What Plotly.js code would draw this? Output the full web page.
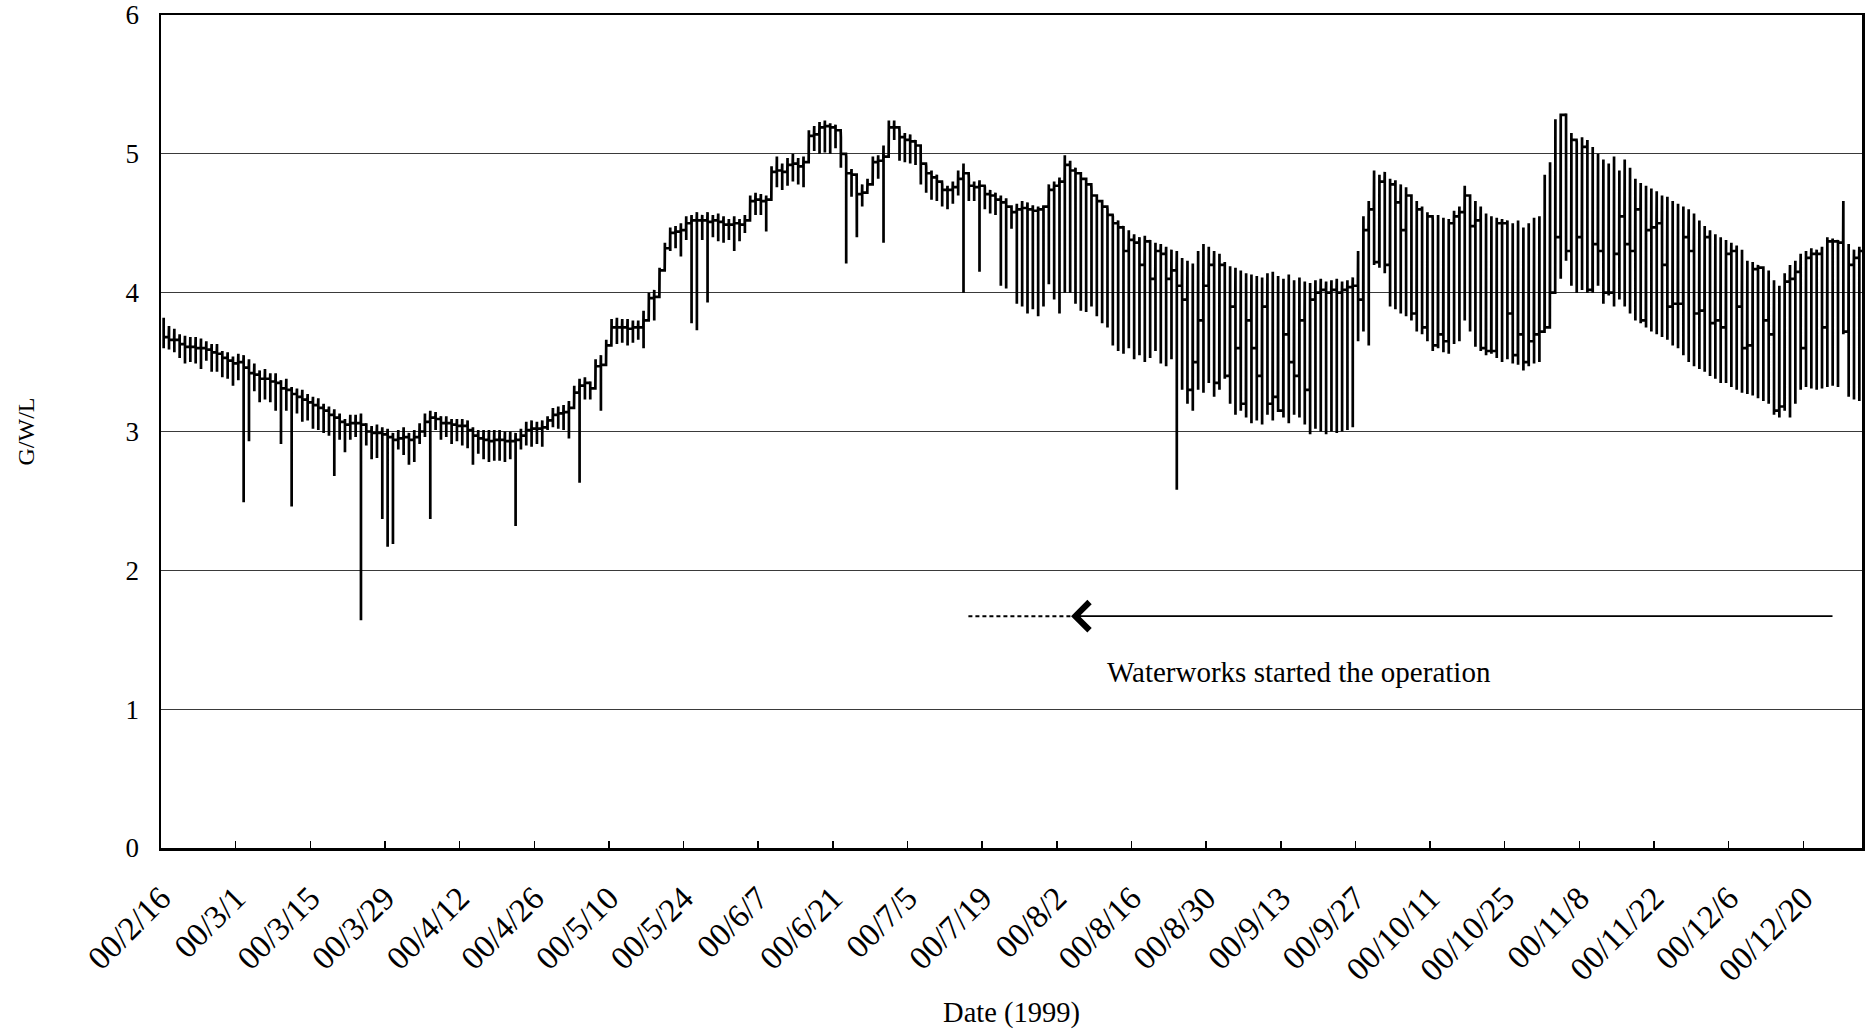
<!DOCTYPE html>
<html>
<head>
<meta charset="utf-8">
<script src="https://cdn.plot.ly/plotly-3.0.1.min.js"></script>
<style>
html,body{margin:0;padding:0;background:#ffffff;}
#chart{width:1868px;height:1029px;}
</style>
</head>
<body>
<div id="chart"></div>
<script>
// ---- Data (one entry per day starting 2000-02-16) ----
const startDate = '2000-02-16';
const endDate = '2000-12-31';

// level the trace rests at during the day
const dayLevel = [
3.68,3.66,3.66,3.63,3.61,3.61,3.60,3.60,3.59,3.57,
3.56,3.53,3.51,3.49,3.50,3.46,3.42,3.41,3.38,3.38,
3.36,3.35,3.31,3.30,3.27,3.25,3.23,3.21,3.19,3.17,
3.15,3.12,3.10,3.07,3.05,3.06,3.06,3.05,3.00,2.99,
2.99,2.98,2.96,2.94,2.95,2.96,2.94,2.96,3.00,3.07,
3.10,3.09,3.06,3.06,3.05,3.04,3.04,3.01,2.97,2.95,
2.94,2.93,2.94,2.94,2.93,2.93,2.94,2.97,3.01,3.02,
3.02,3.03,3.08,3.12,3.13,3.14,3.17,3.28,3.33,3.35,
3.31,3.47,3.48,3.62,3.75,3.75,3.75,3.74,3.75,3.75,
3.80,3.96,3.97,4.16,4.32,4.43,4.44,4.45,4.50,4.52,
4.52,4.52,4.51,4.52,4.51,4.49,4.49,4.50,4.49,4.52,
4.66,4.67,4.66,4.67,4.87,4.88,4.87,4.92,4.93,4.91,
4.94,5.13,5.14,5.19,5.20,5.19,5.17,5.00,4.86,4.85,
4.71,4.72,4.78,4.94,4.95,4.98,5.19,5.19,5.12,5.10,
5.09,5.06,4.93,4.86,4.83,4.80,4.74,4.74,4.76,4.82,
4.86,4.77,4.76,4.77,4.71,4.70,4.67,4.65,4.62,4.58,
4.60,4.61,4.60,4.59,4.60,4.62,4.74,4.77,4.80,4.92,
4.88,4.86,4.82,4.78,4.70,4.66,4.62,4.56,4.50,4.47,
4.30,4.38,4.36,4.20,4.37,4.10,4.30,4.28,4.10,4.16,
4.05,3.95,3.30,3.50,3.80,4.05,4.20,3.35,4.20,3.40,
3.90,3.60,3.20,3.80,3.60,3.40,3.90,3.20,3.25,3.15,
3.70,3.50,3.40,3.80,3.30,3.95,4.00,4.02,4.00,4.02,
4.00,4.02,4.04,4.05,3.95,4.45,4.60,4.22,4.80,4.20,
4.78,4.65,4.45,4.70,3.85,4.60,3.75,4.55,3.62,3.70,
3.65,4.50,4.55,4.58,4.70,4.48,4.52,3.60,3.58,3.58,
4.50,4.50,3.85,3.55,3.70,3.50,3.65,3.70,3.72,3.75,
4.00,4.40,5.28,4.30,5.10,4.40,5.05,4.02,4.35,4.30,
4.00,4.00,4.28,4.55,4.35,4.30,4.60,3.80,4.45,4.47,
4.50,4.20,3.90,3.92,3.92,4.40,4.30,3.85,3.87,4.40,
3.78,3.80,3.75,4.28,4.30,3.90,3.60,3.62,4.17,4.18,
3.80,3.70,3.15,3.18,4.08,4.10,4.15,3.60,4.25,4.28,
4.28,3.75,4.37,4.37,4.36,3.72,4.20,4.25,4.30,4.28
];

// daily maximum
const dayHigh = [
3.82,3.76,3.74,3.70,3.69,3.68,3.68,3.67,3.65,3.63,
3.63,3.58,3.57,3.54,3.56,3.55,3.52,3.49,3.44,3.45,
3.42,3.42,3.37,3.38,3.32,3.31,3.30,3.27,3.25,3.24,
3.20,3.18,3.16,3.13,3.09,3.12,3.12,3.13,3.06,3.04,
3.05,3.03,3.02,2.99,3.01,3.03,2.99,3.01,3.06,3.13,
3.15,3.14,3.11,3.11,3.09,3.09,3.09,3.08,3.03,3.01,
3.01,3.01,3.01,3.01,3.00,3.00,2.99,3.02,3.07,3.08,
3.07,3.08,3.11,3.17,3.18,3.19,3.22,3.33,3.38,3.39,
3.36,3.52,3.55,3.66,3.81,3.82,3.81,3.81,3.80,3.80,
3.87,4.00,4.02,4.18,4.36,4.47,4.48,4.50,4.55,4.56,
4.58,4.56,4.58,4.56,4.57,4.55,4.53,4.55,4.53,4.56,
4.70,4.72,4.71,4.70,4.91,4.98,4.93,4.97,5.00,4.97,
4.98,5.17,5.20,5.23,5.24,5.22,5.21,5.12,4.98,4.89,
4.75,4.78,4.82,4.98,4.99,5.06,5.24,5.24,5.16,5.15,
5.14,5.10,4.98,4.91,4.88,4.85,4.78,4.77,4.80,4.88,
4.93,4.82,4.80,4.81,4.76,4.74,4.72,4.70,4.68,4.62,
4.64,4.66,4.65,4.63,4.62,4.63,4.78,4.80,4.83,4.99,
4.95,4.90,4.86,4.82,4.74,4.70,4.66,4.60,4.55,4.52,
4.48,4.45,4.42,4.40,4.41,4.38,4.36,4.35,4.33,4.31,
4.30,4.25,4.23,4.21,4.30,4.35,4.33,4.30,4.28,4.22,
4.19,4.18,4.16,4.14,4.13,4.12,4.11,4.14,4.15,4.12,
4.10,4.13,4.09,4.11,4.08,4.07,4.09,4.10,4.08,4.09,
4.10,4.08,4.09,4.11,4.30,4.55,4.66,4.88,4.85,4.87,
4.82,4.81,4.78,4.76,4.70,4.66,4.62,4.58,4.52,4.56,
4.54,4.53,4.59,4.62,4.77,4.70,4.66,4.62,4.57,4.55,
4.54,4.53,4.52,4.50,4.52,4.47,4.50,4.54,4.55,4.85,
4.94,5.25,5.29,5.29,5.15,5.08,5.12,5.10,5.05,5.00,
4.96,4.93,4.98,4.88,4.96,4.90,4.82,4.79,4.77,4.75,
4.73,4.70,4.69,4.66,4.64,4.62,4.60,4.57,4.52,4.48,
4.45,4.42,4.40,4.38,4.36,4.34,4.31,4.23,4.22,4.20,
4.18,4.16,4.09,4.05,4.14,4.20,4.23,4.28,4.30,4.32,
4.31,4.33,4.40,4.39,4.38,4.66,4.35,4.31,4.33,4.30
];

// daily minimum
const dayLow = [
3.60,3.59,3.57,3.53,3.49,3.50,3.49,3.45,3.51,3.43,
3.43,3.39,3.38,3.33,3.37,2.49,2.93,3.29,3.21,3.23,
3.21,3.15,2.91,3.15,2.46,3.13,3.07,3.08,3.02,3.01,
2.99,2.97,2.68,2.94,2.85,2.94,2.96,1.64,2.90,2.80,
2.81,2.37,2.17,2.19,2.87,2.83,2.76,2.78,2.91,2.96,
2.37,3.01,2.94,2.96,2.91,2.93,2.90,2.88,2.76,2.84,
2.80,2.78,2.79,2.79,2.78,2.80,2.32,2.87,2.90,2.89,
2.91,2.89,3.01,3.03,3.02,3.01,2.95,3.21,2.63,3.23,
3.23,3.40,3.15,3.55,3.62,3.63,3.64,3.62,3.64,3.66,
3.60,3.80,3.80,4.10,4.22,4.30,4.32,4.26,4.38,3.78,
3.73,4.38,3.93,4.40,4.37,4.36,4.38,4.30,4.37,4.43,
4.55,4.56,4.56,4.44,4.75,4.76,4.74,4.77,4.80,4.78,
4.76,5.06,5.02,5.00,5.01,5.00,5.04,4.90,4.21,4.69,
4.40,4.62,4.72,4.80,4.82,4.36,5.05,5.10,4.95,4.94,
4.93,4.92,4.78,4.72,4.67,4.66,4.62,4.60,4.64,4.70,
4.00,4.66,4.66,4.15,4.60,4.57,4.56,4.05,4.03,4.46,
3.92,3.90,3.85,3.88,3.83,3.90,4.06,3.95,3.85,4.00,
4.00,3.92,3.87,3.86,3.90,3.83,3.78,3.75,3.62,3.58,
3.56,3.60,3.52,3.55,3.50,3.53,3.58,3.49,3.47,3.52,
2.58,3.30,3.20,3.15,3.30,3.28,3.35,3.25,3.30,3.38,
3.20,3.12,3.15,3.10,3.06,3.08,3.05,3.12,3.08,3.15,
3.10,3.06,3.12,3.10,3.05,2.98,3.02,3.00,2.98,3.00,
2.99,3.00,3.01,3.03,3.65,3.72,3.62,4.20,4.18,4.14,
3.90,3.88,3.85,3.83,3.80,3.72,3.70,3.65,3.58,3.60,
3.57,3.56,3.63,3.65,3.80,3.72,3.61,3.58,3.55,3.56,
3.53,3.50,3.52,3.49,3.48,3.44,3.47,3.49,3.50,3.73,
3.91,4.20,4.10,4.23,4.05,4.00,4.02,4.00,4.00,4.05,
3.92,3.98,3.90,3.95,3.90,3.85,3.80,3.78,3.75,3.72,
3.70,3.68,3.66,3.62,3.60,3.55,3.50,3.47,3.45,3.43,
3.40,3.38,3.35,3.35,3.32,3.30,3.28,3.27,3.26,3.24,
3.22,3.20,3.12,3.10,3.15,3.10,3.20,3.30,3.32,3.31,
3.30,3.31,3.32,3.33,3.32,3.70,3.25,3.23,3.22,3.24
];

const tickDates = ['2000-02-16','2000-03-01','2000-03-15','2000-03-29','2000-04-12','2000-04-26',
  '2000-05-10','2000-05-24','2000-06-07','2000-06-21','2000-07-05','2000-07-19','2000-08-02',
  '2000-08-16','2000-08-30','2000-09-13','2000-09-27','2000-10-11','2000-10-25','2000-11-08',
  '2000-11-22','2000-12-06','2000-12-20'];
const tickLabels = ['00/2/16','00/3/1','00/3/15','00/3/29','00/4/12','00/4/26','00/5/10',
  '00/5/24','00/6/7','00/6/21','00/7/5','00/7/19','00/8/2','00/8/16','00/8/30','00/9/13',
  '00/9/27','00/10/11','00/10/25','00/11/8','00/11/22','00/12/6','00/12/20'];

// annotation: waterworks operation arrow
const noteText = 'Waterworks started the operation';
const noteDate = '2000-09-16 08:00';
const noteLevel = 1.27;
const arrowLevel = 1.67;
const arrowTailDate = '2000-12-25 18:00';
const arrowHeadDate = '2000-08-04 16:00';
const dashStartDate = '2000-07-16 10:00';

// ---- Build the line from the daily arrays ----
const DAY = 86400000;
const p2 = n => String(n).padStart(2, '0');
function fmt(ms) {
  const d = new Date(ms);
  return d.getUTCFullYear() + '-' + p2(d.getUTCMonth() + 1) + '-' + p2(d.getUTCDate()) + ' ' +
    p2(d.getUTCHours()) + ':' + p2(d.getUTCMinutes()) + ':' + p2(d.getUTCSeconds());
}
const [sy, sm, sd] = startDate.split('-').map(Number);
const startMs = Date.UTC(sy, sm - 1, sd);
const xs = [], ys = [];
for (let i = 0; i < dayLevel.length; i++) {
  const t = startMs + (i + 0.5) * DAY;
  xs.push(fmt(t), fmt(t), fmt(t), fmt(t + 0.96 * DAY));
  ys.push(dayHigh[i], dayLow[i], dayLevel[i], dayLevel[i]);
}

const FONT = 'Liberation Serif, "Times New Roman", Times, serif';

const traces = [
  {
    type: 'scatter', mode: 'lines', x: xs, y: ys,
    line: {color: '#000000', width: 2.7},
    hoverinfo: 'skip', showlegend: false
  },
  {
    type: 'scatter', mode: 'lines', x: [dashStartDate, arrowHeadDate], y: [arrowLevel, arrowLevel],
    line: {color: '#000000', width: 2, dash: '4px,3px'},
    hoverinfo: 'skip', showlegend: false
  }
];

const layout = {
  width: 1868, height: 1029,
  margin: {l: 161, r: 6, t: 15, b: 181, pad: 0},
  paper_bgcolor: '#ffffff', plot_bgcolor: '#ffffff',
  font: {family: FONT, color: '#000000', size: 28},
  showlegend: false,
  xaxis: {
    type: 'date',
    range: [startDate, endDate],
    tickvals: tickDates, ticktext: tickLabels,
    tickangle: -45,
    tickfont: {family: FONT, size: 33, color: '#000'},
    ticks: 'inside', ticklen: 7, tickwidth: 1.5, tickcolor: '#000',
    ticklabelstandoff: 15,
    showgrid: false, zeroline: false,
    showline: true, linecolor: '#000', linewidth: 2.5, mirror: true,
    automargin: false,
    title: {text: 'Date (1999)', font: {family: FONT, size: 28.5, color: '#000'}, standoff: 16}
  },
  yaxis: {
    range: [0, 6], tickvals: [0,1,2,3,4,5,6],
    tickfont: {family: FONT, size: 27, color: '#000'},
    ticks: '', ticklabelstandoff: 14,
    showgrid: true, gridcolor: '#3a3a3a', gridwidth: 1,
    zeroline: false,
    showline: true, linecolor: '#000', linewidth: 2.5, mirror: true,
    automargin: false,
    title: {text: 'G/W/L', font: {family: FONT, size: 24, color: '#000'}, standoff: 84}
  },
  annotations: [
    {
      x: arrowHeadDate, y: arrowLevel, xref: 'x', yref: 'y',
      ax: arrowTailDate, ay: arrowLevel, axref: 'x', ayref: 'y',
      showarrow: true, arrowhead: 4, arrowsize: 3.4, arrowwidth: 1.6, arrowcolor: '#000',
      text: ''
    },
    {
      x: noteDate, y: noteLevel, xref: 'x', yref: 'y',
      text: noteText, showarrow: false,
      font: {family: FONT, size: 29, color: '#000'},
      xanchor: 'center', yanchor: 'middle'
    }
  ]
};

Plotly.newPlot('chart', traces, layout, {displayModeBar: false, staticPlot: true});
</script>
</body>
</html>
